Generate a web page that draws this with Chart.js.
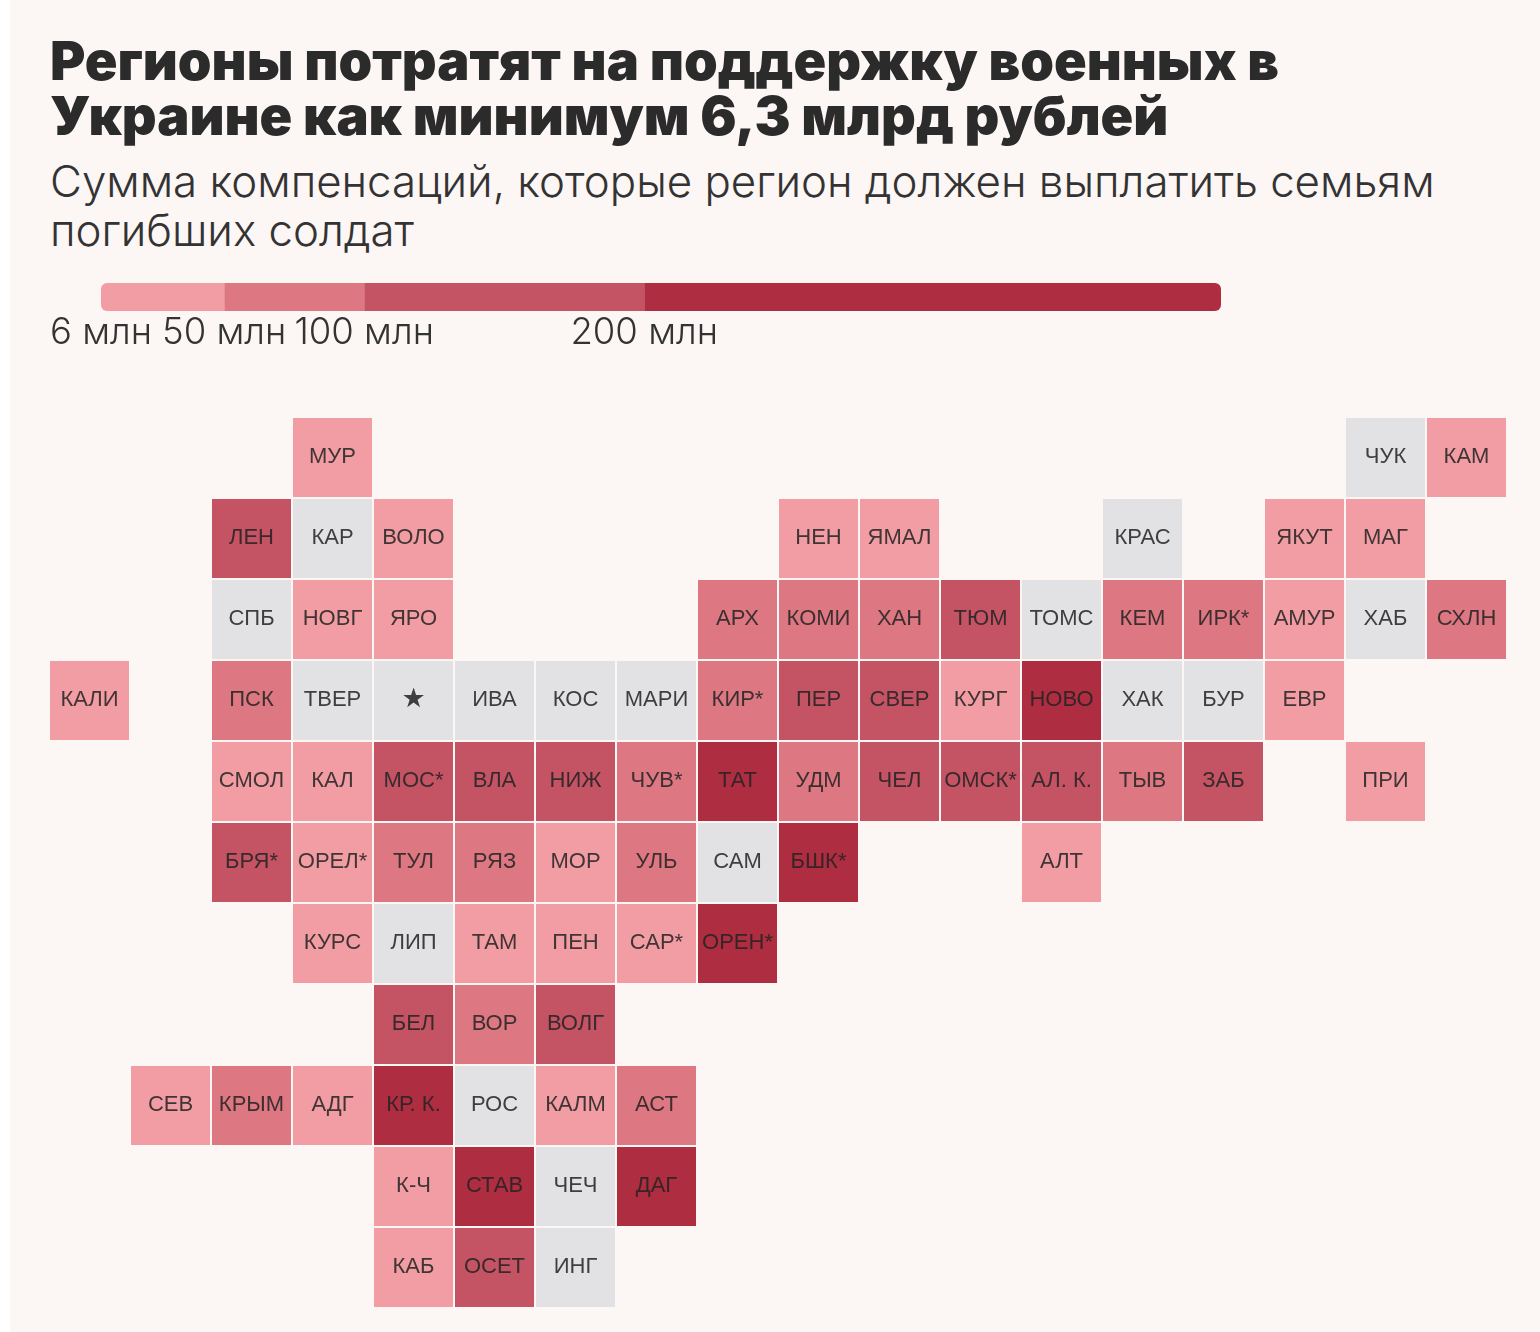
<!DOCTYPE html>
<html lang="ru">
<head>
<meta charset="utf-8">
<title>Регионы потратят на поддержку военных</title>
<script src="https://cdn.jsdelivr.net/npm/chart.js@4/dist/chart.umd.min.js"></script>
<style>
    html, body { margin: 0; padding: 0; background: #fff; }
    #page { position: relative; width: 1530px; height: 1332px; margin-left: 10px; background: #fcf6f5; overflow: hidden; }
    #title { position: absolute; left: 40px; top: 33px; margin: 0; font: 900 54px/55px Inter, sans-serif; color: #2b2b2b; white-space: nowrap; }
    #subtitle { position: absolute; left: 40px; top: 157px; margin: 0; font: 300 43.8px/49px Inter, sans-serif; color: #333; white-space: nowrap; }
    #legendWrap { position: absolute; left: -10px; top: 270px; width: 1540px; height: 91px; }
    #mapWrap { position: absolute; left: 39px; top: 417px; width: 1458px; height: 891px; }
</style>
</head>
<body>
<div id="page">
    <h1 id="title">Регионы потратят на поддержку военных в<br>Украине как минимум 6,3 млрд рублей</h1>
    <p id="subtitle">Сумма компенсаций, которые регион должен выплатить семьям<br>погибших солдат</p>
    <div id="legendWrap"><canvas id="legendChart"></canvas></div>
    <div id="mapWrap"><canvas id="mapChart"></canvas></div>
</div>
<script>
// bin: 0 = no data, 1 = 6-50, 2 = 50-100, 3 = 100-200, 4 = 200+ mln
const regionCodes = [
    'МУР', 'ЧУК', 'КАМ',
    'ЛЕН', 'КАР', 'ВОЛО', 'НЕН', 'ЯМАЛ', 'КРАС', 'ЯКУТ', 'МАГ',
    'СПБ', 'НОВГ', 'ЯРО', 'АРХ', 'КОМИ', 'ХАН', 'ТЮМ', 'ТОМС', 'КЕМ', 'ИРК*', 'АМУР', 'ХАБ', 'СХЛН',
    'КАЛИ', 'ПСК', 'ТВЕР', '★', 'ИВА', 'КОС', 'МАРИ', 'КИР*', 'ПЕР', 'СВЕР', 'КУРГ', 'НОВО', 'ХАК', 'БУР', 'ЕВР',
    'СМОЛ', 'КАЛ', 'МОС*', 'ВЛА', 'НИЖ', 'ЧУВ*', 'ТАТ', 'УДМ', 'ЧЕЛ', 'ОМСК*', 'АЛ. К.', 'ТЫВ', 'ЗАБ', 'ПРИ',
    'БРЯ*', 'ОРЕЛ*', 'ТУЛ', 'РЯЗ', 'МОР', 'УЛЬ', 'САМ', 'БШК*', 'АЛТ',
    'КУРС', 'ЛИП', 'ТАМ', 'ПЕН', 'САР*', 'ОРЕН*',
    'БЕЛ', 'ВОР', 'ВОЛГ',
    'СЕВ', 'КРЫМ', 'АДГ', 'КР. К.', 'РОС', 'КАЛМ', 'АСТ',
    'К-Ч', 'СТАВ', 'ЧЕЧ', 'ДАГ',
    'КАБ', 'ОСЕТ', 'ИНГ'
];
const regionCols = [
    3, 16, 17,
    2, 3, 4, 9, 10, 13, 15, 16,
    2, 3, 4, 8, 9, 10, 11, 12, 13, 14, 15, 16, 17,
    0, 2, 3, 4, 5, 6, 7, 8, 9, 10, 11, 12, 13, 14, 15,
    2, 3, 4, 5, 6, 7, 8, 9, 10, 11, 12, 13, 14, 16,
    2, 3, 4, 5, 6, 7, 8, 9, 12,
    3, 4, 5, 6, 7, 8,
    4, 5, 6,
    1, 2, 3, 4, 5, 6, 7,
    4, 5, 6, 7,
    4, 5, 6
];
const regionRows = [
    0, 0, 0,
    1, 1, 1, 1, 1, 1, 1, 1,
    2, 2, 2, 2, 2, 2, 2, 2, 2, 2, 2, 2, 2,
    3, 3, 3, 3, 3, 3, 3, 3, 3, 3, 3, 3, 3, 3, 3,
    4, 4, 4, 4, 4, 4, 4, 4, 4, 4, 4, 4, 4, 4,
    5, 5, 5, 5, 5, 5, 5, 5, 5,
    6, 6, 6, 6, 6, 6,
    7, 7, 7,
    8, 8, 8, 8, 8, 8, 8,
    9, 9, 9, 9,
    10, 10, 10
];
const regionBins = [
    1, 0, 1,
    3, 0, 1, 1, 1, 0, 1, 1,
    0, 1, 1, 2, 2, 2, 3, 0, 2, 2, 1, 0, 2,
    1, 2, 0, 0, 0, 0, 0, 2, 3, 3, 1, 4, 0, 0, 1,
    1, 1, 3, 3, 3, 2, 4, 2, 3, 3, 3, 2, 3, 1,
    3, 1, 2, 2, 1, 2, 0, 4, 1,
    1, 0, 1, 1, 1, 4,
    3, 2, 3,
    1, 2, 1, 4, 0, 1, 2,
    1, 4, 0, 4,
    1, 3, 0
];
const binColors = ['#e2e2e4', '#f29da3', '#dd7782', '#c45364', '#af2d41'];
const legendBreaks = [6, 50, 100, 200, 406];
const legendTicks = [6, 50, 100, 200];
const tickSuffix = ' млн';

const textColor = '#333333';
const tileGap = 2;

// labels go on top of the tiles, centred on each point
const tileLabels = {
    id: 'tileLabels',
    afterDatasetsDraw(chart) {
        const ctx = chart.ctx;
        const pts = chart.getDatasetMeta(0).data;
        ctx.save();
        ctx.textAlign = 'center';
        ctx.textBaseline = 'middle';
        ctx.fillStyle = 'rgba(35,35,35,0.86)';
        pts.forEach((p, i) => {
            const code = regionCodes[i];
            ctx.font = code === '★' ? '27px "DejaVu Sans"' : '22px "Liberation Sans"';
            ctx.fillText(code, p.x, p.y - 1);
        });
        ctx.restore();
    }
};

new Chart(document.getElementById('mapChart'), {
    type: 'scatter',
    data: {
        datasets: [{
            data: regionCols.map((c, i) => ({ x: c, y: regionRows[i] })),
            pointStyle: 'rect',
            pointRadius: ctx => {
                const xs = ctx.chart.scales.x;
                return (xs.getPixelForValue(1) - xs.getPixelForValue(0) - tileGap) / Math.SQRT2;
            },
            pointBorderWidth: 0,
            pointBackgroundColor: regionBins.map(b => binColors[b])
        }]
    },
    options: {
        responsive: true,
        maintainAspectRatio: false,
        animation: false,
        events: [],
        layout: { padding: 0 },
        plugins: { legend: { display: false }, tooltip: { enabled: false } },
        scales: {
            x: { type: 'linear', min: -0.5, max: 17.5, display: false },
            y: { type: 'linear', min: -0.5, max: 10.5, reverse: true, display: false }
        }
    },
    plugins: [tileLabels]
});

// colour scale: a real linear axis, so segment widths follow the numbers
const lastSeg = legendBreaks.length - 2;
new Chart(document.getElementById('legendChart'), {
    type: 'bar',
    data: {
        labels: ['scale'],
        datasets: legendBreaks.slice(0, -1).map((from, i) => ({
            data: [[from, legendBreaks[i + 1]]],
            backgroundColor: binColors[i + 1],
            borderWidth: 0,
            borderSkipped: false,
            inflateAmount: 0,
            borderRadius: {
                topLeft: i === 0 ? 6 : 0,
                bottomLeft: i === 0 ? 6 : 0,
                topRight: i === lastSeg ? 6 : 0,
                bottomRight: i === lastSeg ? 6 : 0
            },
            grouped: false,
            barPercentage: 1,
            categoryPercentage: 1
        }))
    },
    options: {
        indexAxis: 'y',
        responsive: true,
        maintainAspectRatio: false,
        animation: false,
        events: [],
        layout: { padding: { left: 101, right: 319, top: 13, bottom: 0 }, autoPadding: false },
        plugins: { legend: { display: false }, tooltip: { enabled: false } },
        scales: {
            x: {
                type: 'linear',
                min: legendBreaks[0],
                max: legendBreaks[legendBreaks.length - 1],
                grid: { display: false, drawTicks: false },
                border: { display: false },
                afterBuildTicks: axis => { axis.ticks = legendTicks.map(v => ({ value: v })); },
                afterFit: axis => { axis.height = 50; },
                ticks: {
                    autoSkip: false,
                    maxRotation: 0,
                    padding: 0,
                    color: textColor,
                    font: { family: 'Inter', size: 36.5, weight: '300' },
                    callback: v => v + tickSuffix
                }
            },
            y: { display: false }
        }
    }
});
</script>
</body>
</html>
